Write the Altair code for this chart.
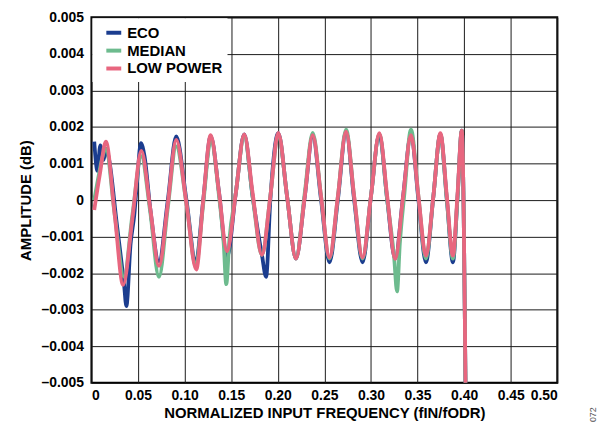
import altair as alt
import pandas as pd

MODES = ["ECO", "MEDIAN", "LOW POWER"]
COLORS = ["#1b3d8f", "#6dbb8e", "#e8667f"]

x_ticks = [0, 0.05, 0.10, 0.15, 0.20, 0.25, 0.30, 0.35, 0.40, 0.45, 0.50]
y_ticks = [-0.005, -0.004, -0.003, -0.002, -0.001, 0, 0.001, 0.002, 0.003, 0.004, 0.005]

eco_x = [0.003, 0.0065, 0.0095, 0.013, 0.0155, 0.019, 0.027, 0.035, 0.0375, 0.042, 0.046,
         0.049, 0.053, 0.057, 0.063, 0.0725, 0.082, 0.091, 0.102, 0.112, 0.120, 0.128,
         0.137, 0.1455, 0.155, 0.164, 0.173, 0.183, 0.1875, 0.192, 0.2005, 0.210, 0.2195,
         0.229, 0.2375, 0.2465, 0.2555, 0.2645, 0.2733, 0.282, 0.291, 0.300, 0.309, 0.3175,
         0.326, 0.3345, 0.343, 0.351, 0.359, 0.367, 0.3745, 0.3815, 0.388, 0.393, 0.3975,
         0.4015]
eco_y = [0.0016, 0.0008, 0.0015, 0.0011, 0.0014, 0.0011, -0.0006, -0.0023, -0.0029, -0.0012,
         -0.0004, 0.0005, 0.00156, 0.0012, -0.0002, -0.00167, 0.0000, 0.00174, 0.0000,
         -0.0017, 0.0000, 0.00175, 0.0002, -0.00157, 0.0002, 0.0018, 0.0001, -0.0015,
         -0.0021, 0.0000, 0.00183, 0.0001, -0.0016, 0.0001, 0.00175, 0.0000, -0.0017,
         0.0000, 0.00185, 0.0000, -0.0017, 0.0001, 0.0018, 0.0000, -0.0016, 0.0001, 0.0018,
         0.0000, -0.0017, 0.0001, 0.0018, 0.0000, -0.0017, 0.0001, 0.0019, -0.0050]

median_x = [0.003, 0.008, 0.012, 0.0155, 0.025, 0.035, 0.044, 0.0535, 0.063, 0.0725, 0.082,
            0.091, 0.102, 0.112, 0.120, 0.128, 0.137, 0.142, 0.1447, 0.148, 0.155, 0.164,
            0.173, 0.183, 0.192, 0.2005, 0.210, 0.2195, 0.229, 0.2375, 0.2465, 0.2555,
            0.2645, 0.2733, 0.282, 0.291, 0.300, 0.309, 0.3175, 0.325, 0.328, 0.331, 0.336,
            0.343, 0.351, 0.359, 0.367, 0.3745, 0.3815, 0.388, 0.393, 0.3975, 0.4015]
median_y = [0.0000, 0.0007, 0.0012, 0.0014, -0.0004, -0.0021, -0.0004, 0.0012, -0.0003,
            -0.0021, -0.0002, 0.00147, -0.0001, -0.0018, -0.0001, 0.00165, 0.0001, -0.0012,
            -0.0023, -0.0011, 0.0002, 0.00175, 0.0001, -0.0015, 0.0001, 0.0018, 0.0001,
            -0.0016, 0.0002, 0.00184, 0.0001, -0.0016, 0.0001, 0.00193, 0.0001, -0.0016,
            0.0001, 0.0018, 0.0000, -0.0016, -0.0025, -0.0012, 0.0002, 0.00193, 0.0001,
            -0.0016, 0.0001, 0.0018, 0.0000, -0.0016, 0.0001, 0.0019, -0.0050]

low_x = [0.003, 0.009, 0.0155, 0.025, 0.034, 0.044, 0.0535, 0.063, 0.0725, 0.082, 0.091,
         0.102, 0.1125, 0.120, 0.128, 0.137, 0.1455, 0.155, 0.164, 0.173, 0.183, 0.192,
         0.2005, 0.210, 0.2195, 0.229, 0.2375, 0.2465, 0.2555, 0.2645, 0.2733, 0.282, 0.291,
         0.300, 0.309, 0.3175, 0.326, 0.3345, 0.343, 0.351, 0.359, 0.367, 0.3745, 0.3815,
         0.388, 0.393, 0.3975, 0.4015]
low_y = [-0.00027, 0.0007, 0.0016, -0.0004, -0.00232, -0.0005, 0.00135, -0.0002, -0.0018,
         -0.0001, 0.00165, -0.0001, -0.0019, 0.0000, 0.00178, 0.0002, -0.0014, 0.0002,
         0.0018, 0.0002, -0.0015, 0.0001, 0.00184, 0.0001, -0.0016, 0.0001, 0.00178, 0.0001,
         -0.00157, 0.0001, 0.00187, 0.0001, -0.00157, 0.0001, 0.00183, 0.0001, -0.00161,
         0.0001, 0.00178, 0.0001, -0.00152, 0.0001, 0.00183, 0.0001, -0.00152, 0.0002,
         0.0019, -0.0050]

series = [("ECO", eco_x, eco_y), ("MEDIAN", median_x, median_y), ("LOW POWER", low_x, low_y)]
df = pd.concat(
    [pd.DataFrame({"f": xs, "a": ys, "mode": name}) for name, xs, ys in series],
    ignore_index=True,
)

FONT = "Liberation Sans"

color = alt.Color(
    "mode:N",
    scale=alt.Scale(domain=MODES, range=COLORS),
    legend=alt.Legend(
        title=None,
        orient="none",
        legendX=1,
        legendY=1,
        padding=5,
        symbolOffset=7,
        fillColor="white",
        symbolType="stroke",
        symbolSize=225,
        symbolStrokeWidth=4,
        labelFont=FONT,
        labelFontSize=15,
        labelFontWeight="bold",
        labelColor="black",
        labelOffset=4,
        rowPadding=-2,
    ),
)

x_enc = alt.X(
    "f:Q",
    scale=alt.Scale(domain=[0, 0.5], nice=False),
    axis=alt.Axis(
        values=x_ticks,
        labelExpr="datum.value == 0 ? '0' : format(datum.value, '.2f')",
        title="NORMALIZED INPUT FREQUENCY (fIN/fODR)",
        titlePadding=3,
        labelPadding=6,
    ),
)
y_enc = alt.Y(
    "a:Q",
    scale=alt.Scale(domain=[-0.005, 0.005], nice=False),
    axis=alt.Axis(
        values=y_ticks,
        labelExpr="datum.value == 0 ? '0' : (datum.value < 0 ? '\u2013' + format(-datum.value, '.3f') : format(datum.value, '.3f'))",
        title="AMPLITUDE (dB)",
        titlePadding=8,
        labelPadding=8,
    ),
)

layers = [
    alt.Chart(df)
    .transform_filter(alt.datum.mode == m)
    .mark_line(strokeWidth=3.8, interpolate="monotone", clip=True)
    .encode(x=x_enc, y=y_enc, color=color)
    for m in MODES
]

note = (
    alt.Chart(pd.DataFrame({"t": ["072"]}))
    .mark_text(font=FONT, fontSize=9, color="#555555", angle=270, align="center", baseline="middle")
    .encode(text="t:N", x=alt.value(505), y=alt.value(400))
)

chart = (
    alt.layer(*layers, note)
    .properties(
        width=469,
        height=368,
        autosize=alt.AutoSizeParams(type="none"),
        padding={"left": 84, "top": 8, "right": 40, "bottom": 40},
        background="white",
    )
    .configure_view(stroke="black", strokeWidth=2)
    .configure_axis(
        grid=True,
        gridColor="#1a1a1a",
        gridWidth=1,
        gridOpacity=1,
        ticks=False,
        domain=False,
        labelFont=FONT,
        labelFontSize=14,
        labelFontWeight="bold",
        labelColor="black",
        titleFont=FONT,
        titleFontSize=15,
        titleFontWeight="bold",
        titleColor="black",
    )
)

chart.save("out.html", embed_options={"renderer": "svg", "actions": False})
